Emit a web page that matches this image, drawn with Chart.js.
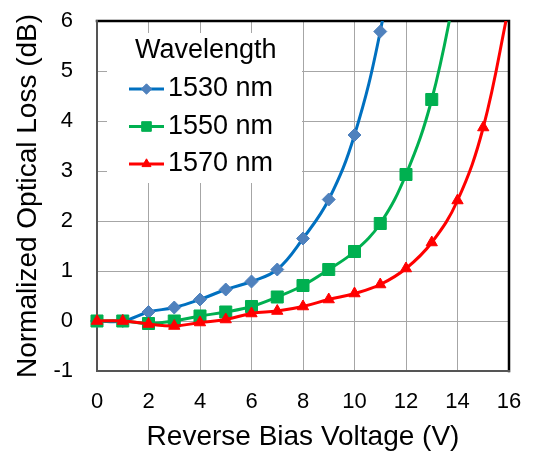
<!DOCTYPE html>
<html>
<head>
<meta charset="utf-8">
<script src="https://cdn.jsdelivr.net/npm/chart.js@4/dist/chart.umd.min.js"></script>
<style>
  body { margin: 0; background: #fff; }
  canvas { display: block; }
</style>
</head>
<body>
<canvas id="myChart" width="533" height="455"></canvas>
<script>
const ctx = document.getElementById('myChart');

// reverse bias voltage (V), one reading per volt
const voltages = [0, 1, 2, 3, 4, 5, 6, 7, 8, 9, 10, 11, 12, 13, 14, 15, 16];

// normalized optical loss (dB); last value of each series sits above the 6 dB axis top
const loss1530 = [0, 0, 0.18, 0.27, 0.43, 0.63, 0.79, 1.03, 1.65, 2.43, 3.72, 5.79, 8.8];
const loss1550 = [0, 0, -0.05, 0, 0.1, 0.18, 0.29, 0.48, 0.71, 1.03, 1.39, 1.95, 2.93, 4.43, 6.8];
const loss1570 = [0, 0, -0.06, -0.1, -0.03, 0.03, 0.15, 0.2, 0.29, 0.43, 0.55, 0.73, 1.05, 1.57, 2.41, 3.87, 6.3];

const xTicks = [0, 2, 4, 6, 8, 10, 12, 14, 16];
const yTicks = [-1, 0, 1, 2, 3, 4, 5, 6];

const legendTitle = 'Wavelength';
const seriesNames = ['1530 nm', '1550 nm', '1570 nm'];

const toPoints = (values) => values.map((v, i) => ({ x: voltages[i], y: v }));

const series = [
  { name: seriesNames[0], values: loss1530, line: '#0070C0', mark: '#4F81BD', style: 'rectRot', radius: 6.5, order: 2 },
  { name: seriesNames[1], values: loss1550, line: '#00B050', mark: '#00B050', style: 'rect', radius: 8.5, order: 1 },
  { name: seriesNames[2], values: loss1570, line: '#FF0000', mark: '#FF0000', style: 'triangle', radius: 6.5, order: 0 },
];

const data = {
  datasets: series.map(s => ({
    label: s.name,
    data: toPoints(s.values),
    borderColor: s.line,
    borderWidth: 3,
    backgroundColor: s.mark,
    pointBackgroundColor: s.mark,
    pointBorderColor: s.mark,
    pointBorderWidth: 1,
    pointStyle: s.style,
    pointRadius: s.radius,
    tension: 0.4,
    order: s.order,
    clip: { left: 12, top: 0, right: 0, bottom: 12 },
  }))
};

// keep the plot box where the layout padding puts it
const noLabelPadding = (scale) => {
  scale.paddingTop = 0;
  scale.paddingBottom = 0;
  scale.paddingLeft = 0;
  scale.paddingRight = 0;
};

// plot frame plus the boxed legend inside the top-left corner
const frameAndLegend = {
  id: 'frameAndLegend',
  beforeDatasetsDraw(chart) {
    const c = chart.ctx;
    const a = chart.chartArea;
    c.save();

    c.lineCap = 'square';
    c.strokeStyle = '#000';
    c.lineWidth = 2.5;
    c.beginPath();
    c.moveTo(a.left, a.top);
    c.lineTo(a.right, a.top);
    c.lineTo(a.right, a.bottom);
    c.stroke();

    c.strokeStyle = '#555';
    c.lineWidth = 2;
    c.beginPath();
    c.moveTo(a.right, a.bottom);
    c.lineTo(a.left, a.bottom);
    c.lineTo(a.left, a.top);
    c.stroke();

    // legend box
    c.fillStyle = '#fff';
    c.fillRect(107, 33, 195, 150);

    c.fillStyle = '#000';
    c.font = '27px Arial, "Liberation Sans", sans-serif';
    c.textBaseline = 'middle';
    c.textAlign = 'left';
    c.fillText(legendTitle, 135, 51);

    series.forEach((s, i) => {
      const y = 89 + i * 37.5;
      c.strokeStyle = s.line;
      c.lineWidth = 3;
      c.lineCap = 'butt';
      c.beginPath();
      c.moveTo(129, y);
      c.lineTo(164, y);
      c.stroke();
      c.fillStyle = s.mark;
      c.strokeStyle = s.mark;
      c.lineWidth = 1;
      Chart.helpers.drawPoint(c, { pointStyle: s.style, radius: s.radius * 0.8, borderWidth: 1, rotation: 0 }, 146.5, y);
      c.fillStyle = '#000';
      c.fillText(s.name, 168, y);
    });

    c.restore();
  }
};

const lossChart = new Chart(ctx, {
  type: 'line',
  data: data,
  plugins: [frameAndLegend],
  options: {
    responsive: false,
    animation: false,
    layout: {
      padding: { left: 0, right: 24, top: 21, bottom: 0 }
    },
    plugins: {
      legend: { display: false },
      tooltip: { enabled: false },
    },
    scales: {
      x: {
        type: 'linear',
        min: 0,
        max: 16,
        afterBuildTicks: (scale) => { scale.ticks = xTicks.map(v => ({ value: v })); },
        afterFit: (scale) => { scale.height = 84; noLabelPadding(scale); },
        grid: { color: '#A6A6A6', lineWidth: 1, drawTicks: false },
        border: { display: false },
        ticks: {
          padding: 18,
          color: '#000',
          font: { family: 'Arial, "Liberation Sans", sans-serif', size: 22 },
        },
        title: {
          display: true,
          text: 'Reverse Bias Voltage (V)',
          color: '#000',
          font: { family: 'Arial, "Liberation Sans", sans-serif', size: 28 },
          padding: { top: 0, bottom: 1 },
        }
      },
      y: {
        min: -1,
        max: 6,
        afterBuildTicks: (scale) => { scale.ticks = yTicks.map(v => ({ value: v })); },
        afterFit: (scale) => { scale.width = 97; noLabelPadding(scale); },
        grid: { color: '#A6A6A6', lineWidth: 1, drawTicks: false },
        border: { display: false },
        ticks: {
          padding: 24,
          color: '#000',
          font: { family: 'Arial, "Liberation Sans", sans-serif', size: 22 },
        },
        title: {
          display: true,
          text: 'Normalized Optical Loss (dB)',
          color: '#000',
          font: { family: 'Arial, "Liberation Sans", sans-serif', size: 28 },
          padding: { top: 11, bottom: 0 },
        }
      }
    },
  },
});
</script>
</body>
</html>
